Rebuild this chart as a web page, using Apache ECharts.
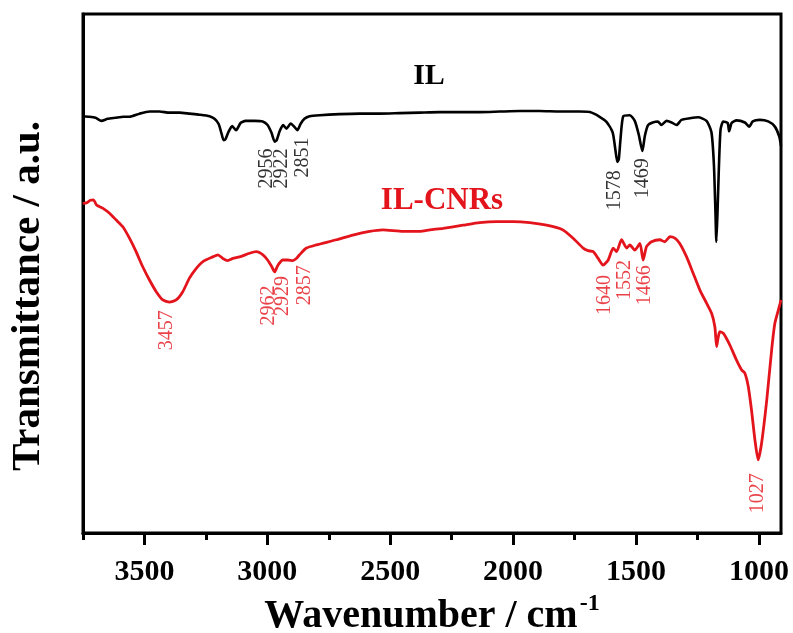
<!DOCTYPE html>
<html>
<head>
<meta charset="utf-8">
<script src="https://cdn.jsdelivr.net/npm/echarts@6/dist/echarts.min.js"></script>
<style>html,body{margin:0;padding:0;background:#fff}#c{width:793px;height:633px}</style>
</head>
<body>
<div id="c"></div>
<script>
// ---- Data (wavenumber cm^-1, transmittance a.u.) ----
const ilWn = [3751,3724,3699,3675,3650,3618,3585,3561,3520,3479,3439,3398,3357,3316,3276,3235,3215,3198,3186,3178,3170,3158,3143,3127,3109,3089,3052,3019,2999,2983,2970,2962,2950,2936,2922,2905,2889,2878,2865,2849,2828,2787,2706,2624,2543,2462,2380,2299,2217,2136,2055,1973,1892,1810,1729,1688,1648,1620,1595,1584,1576,1570,1563,1552,1525,1505,1489,1474,1464,1451,1432,1411,1397,1376,1355,1335,1315,1281,1247,1213,1193,1183,1177,1173,1168,1163,1156,1145,1127,1121,1111,1091,1057,1039,1025,996,962,935,917,910];
const ilT = [80.3,80.2,80.0,79.4,79.8,80.0,80.2,80.2,80.8,81.2,81.2,81.0,81.0,80.8,80.6,80.3,79.8,78.8,76.9,75.7,75.9,77.3,78.4,77.6,79.0,79.4,79.4,79.3,78.6,77.1,75.4,75.7,77.4,78.6,77.9,78.9,78.2,77.6,78.8,79.8,80.3,80.5,80.7,80.8,80.8,80.9,81.0,81.1,81.1,81.1,81.2,81.3,81.3,81.2,81.2,81.1,80.2,79.2,77.2,73.9,71.5,72.0,75.9,80.3,80.5,79.4,76.8,73.6,76.5,78.6,79.1,79.3,78.6,79.4,79.1,78.6,79.6,79.9,80.1,79.4,77.2,71.0,62.3,56.1,62.3,70.0,77.7,79.3,79.0,77.4,79.0,79.5,79.1,78.3,79.3,79.6,79.3,78.3,76.4,74.6];

const cnrWn = [3751,3736,3720,3707,3695,3670,3642,3615,3588,3561,3534,3507,3479,3452,3425,3398,3371,3344,3317,3289,3262,3222,3201,3181,3161,3140,3113,3072,3045,3018,2999,2983,2970,2962,2954,2937,2916,2896,2882,2869,2841,2801,2719,2652,2584,2530,2448,2380,2339,2285,2204,2136,2068,2000,1932,1864,1797,1756,1715,1695,1674,1654,1634,1613,1593,1579,1559,1538,1525,1505,1484,1471,1457,1437,1403,1383,1362,1342,1322,1294,1267,1240,1213,1192,1179,1172,1166,1159,1145,1118,1091,1070,1057,1043,1030,1016,1003,989,968,948,935,917,910];
const cnrT = [63.5,63.6,64.1,64.2,63.2,62.6,61.6,60.3,59.0,56.8,54.2,51.3,48.7,46.5,44.9,44.5,44.9,46.5,49.1,51.0,52.3,53.2,53.6,52.9,52.5,52.9,53.2,53.9,54.2,53.6,52.6,51.4,50.3,51.1,51.8,52.6,52.6,52.5,52.9,53.6,54.9,55.5,56.5,57.4,58.1,58.4,58.1,58.1,58.4,58.7,59.3,59.8,60.0,60.0,59.8,59.3,58.4,56.8,54.9,54.4,54.2,52.9,51.6,52.6,54.9,54.2,56.5,54.9,55.5,54.5,55.8,52.6,55.2,56.1,56.5,56.1,57.1,56.8,55.8,53.2,50.0,46.8,44.3,42.3,39.7,35.9,37.6,38.8,38.5,36.2,33.3,31.4,30.8,28.2,23.7,17.9,14.1,17.3,25.6,35.3,40.4,43.6,44.9];

// Peak annotations: text, label anchor wavenumber, label top (a.u.)
const ilPeakText = ['2956','2922','2851','1578','1469'];
const ilPeakWn   = [3003,2940,2856,1586,1472];
const ilPeakTop  = [74.1,74.1,76.2,69.9,72.2];

const cnrPeakText = ['3457','2962','2929','2857','1640','1552','1466','1027'];
const cnrPeakWn   = [3410,2995,2938,2846,1627,1546,1464,1004];
const cnrPeakTop  = [42.9,47.7,49.5,51.6,49.7,52.6,51.6,11.5];

const majorTicks = [1000,1500,2000,2500,3000,3500];
const minorTicks = [1250,1750,2250,2750,3250,3750];
const xMin = 910, xMax = 3750;

const SERIF = '"Liberation Serif","Times New Roman",serif';
const RED = '#e3141c';

const chart = echarts.init(document.getElementById('c'), null, {renderer:'canvas'});

function peakSeries(text, wn, top, color){
  return {
    type:'scatter', symbolSize:0, silent:true, z:5,
    data: text.map((t,i)=>({name:t, value:[wn[i], top[i]]})),
    label:{show:true, formatter:p=>p.name, position:'inside', rotate:90,
      align:'right', verticalAlign:'middle', color:color, fontSize:20, fontFamily:SERIF}
  };
}

chart.setOption({
  animation:false,
  backgroundColor:'#fff',
  grid:{left:83, top:14, width:698, height:519, show:true, borderColor:'#000', borderWidth:3,
    backgroundColor:'transparent', containLabel:false, outerBoundsMode:'none'},
  xAxis:[{
    type:'value', inverse:true, min:xMin, max:xMax,
    axisLine:{show:true, lineStyle:{color:'#000', width:3}},
    axisTick:{show:true, customValues:majorTicks, length:12, inside:false, lineStyle:{color:'#000', width:3}},
    axisLabel:{show:true, customValues:majorTicks, formatter:v=>String(v), margin:24, color:'#000', fontSize:30, fontWeight:'bold', fontFamily:SERIF},
    splitLine:{show:false},
    name:'Wavenumber / cm{sup|-1}', nameLocation:'middle', nameGap:49,
    nameTextStyle:{color:'#000', fontSize:40, fontWeight:'bold', fontFamily:SERIF,
      rich:{sup:{fontSize:24, fontWeight:'bold', fontFamily:SERIF, color:'#000', verticalAlign:'top', padding:[0,0,26,2]}}}
  },{
    type:'value', inverse:true, min:xMin, max:xMax, position:'bottom', gridIndex:0,
    axisLine:{show:false},
    axisTick:{show:true, customValues:minorTicks, length:7, inside:false, lineStyle:{color:'#000', width:3}},
    axisLabel:{show:false}, splitLine:{show:false}
  }],
  yAxis:{
    type:'value', min:0, max:100,
    axisLine:{show:true, lineStyle:{color:'#000', width:3}},
    axisTick:{show:false}, axisLabel:{show:false}, splitLine:{show:false}
  },
  graphic:[
    {type:'text', x:28, y:296, rotation:Math.PI/2, style:{text:'Transmittance / a.u.', fill:'#000',
      font:'bold 41px '+SERIF, textAlign:'center', textVerticalAlign:'middle'}},
    {type:'text', x:429, y:76, style:{text:'IL', fill:'#000', font:'bold 30px '+SERIF, textAlign:'center', textVerticalAlign:'middle'}},
    {type:'text', x:442, y:201, style:{text:'IL-CNRs', fill:RED, font:'bold 31px '+SERIF, textAlign:'center', textVerticalAlign:'middle'}}
  ],
  series:[
    {type:'line', name:'IL', data: ilWn.map((w,i)=>[w, ilT[i]]), showSymbol:false, smooth:0.2,
      lineStyle:{color:'#000', width:2.6}, z:3},
    {type:'line', name:'IL-CNRs', data: cnrWn.map((w,i)=>[w, cnrT[i]]), showSymbol:false, smooth:0.2,
      lineStyle:{color:RED, width:2.8}, z:3},
    peakSeries(ilPeakText, ilPeakWn, ilPeakTop, '#000'),
    peakSeries(cnrPeakText, cnrPeakWn, cnrPeakTop, RED)
  ]
});
</script>
</body>
</html>
